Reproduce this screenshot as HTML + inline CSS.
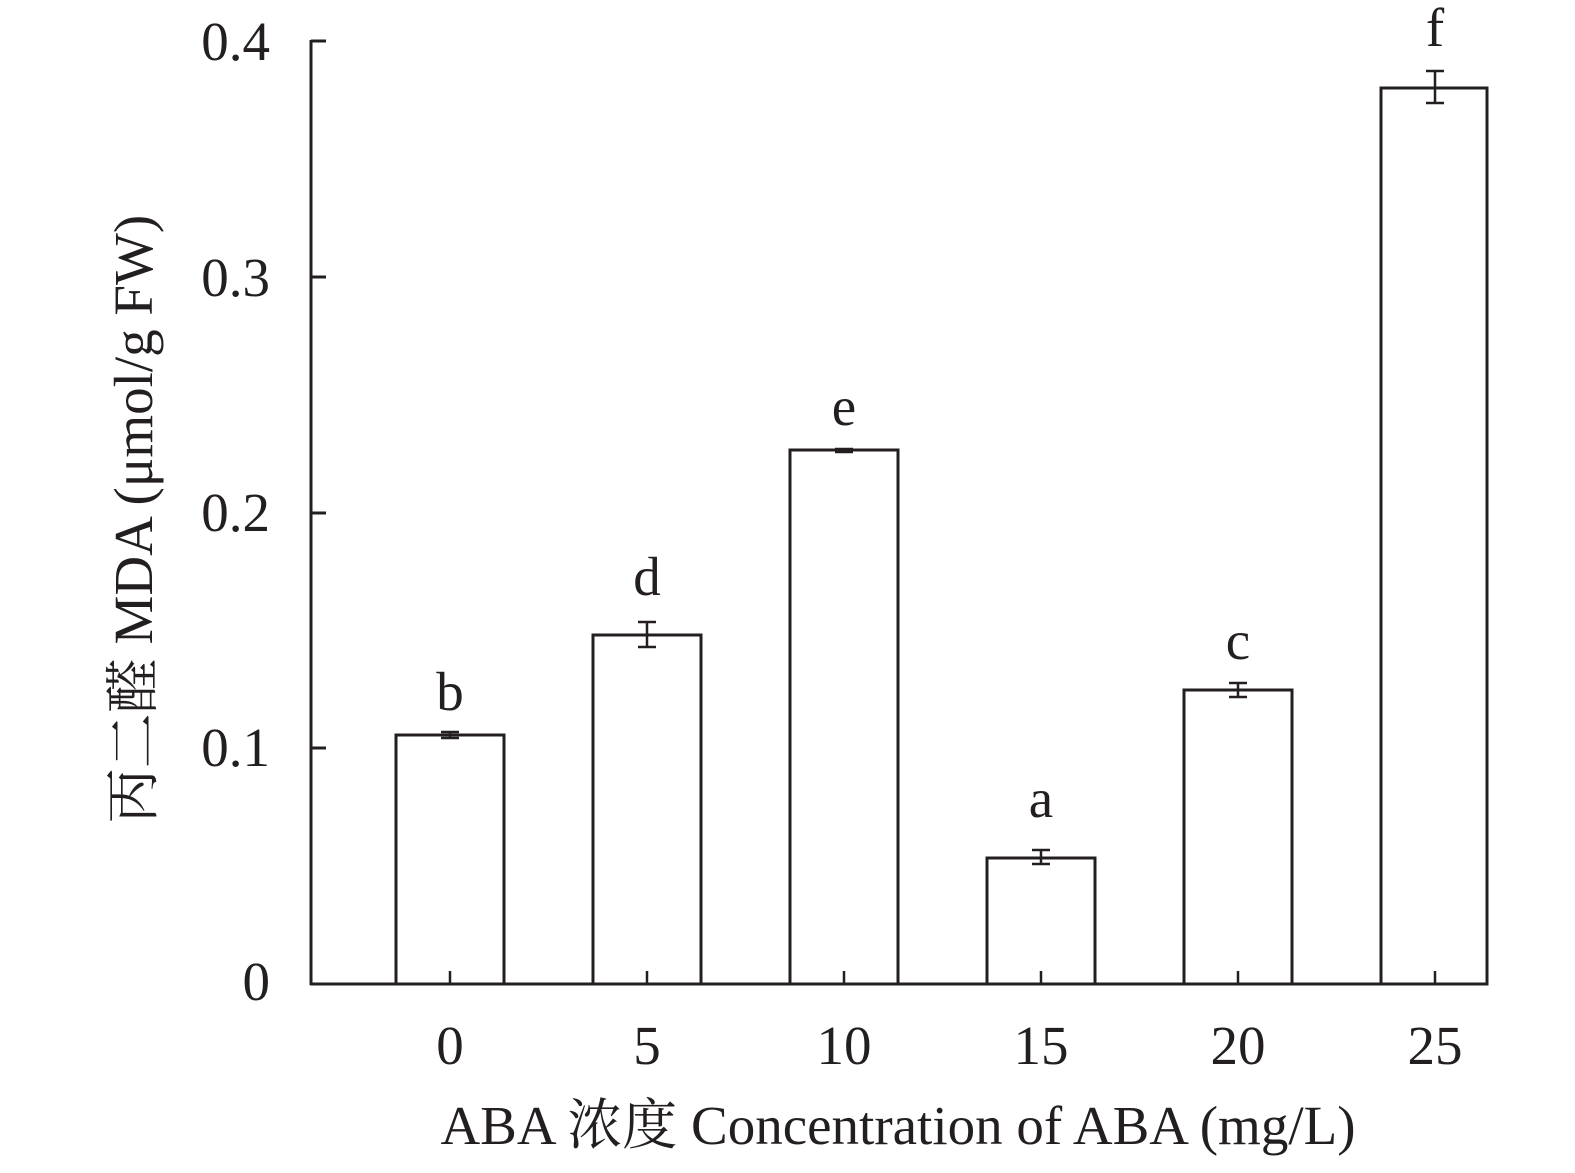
<!DOCTYPE html>
<html><head><meta charset="utf-8"><style>body{margin:0;background:#fff}</style></head><body>
<svg width="1575" height="1168" xmlns="http://www.w3.org/2000/svg" font-family="'Liberation Serif','Noto Serif CJK SC',serif" fill="#231f20">
<g stroke="#231f20" stroke-width="3" fill="none">
<line x1="311" y1="40" x2="311" y2="985"/>
<line x1="310" y1="984" x2="1488" y2="984"/>
<line x1="311" y1="41" x2="326" y2="41"/>
<line x1="311" y1="277" x2="326" y2="277"/>
<line x1="311" y1="513" x2="326" y2="513"/>
<line x1="311" y1="748" x2="326" y2="748"/>
<rect x="396" y="735" width="108" height="249"/>
<rect x="593" y="635" width="108" height="349"/>
<rect x="790" y="450" width="108" height="534"/>
<rect x="987" y="858" width="108" height="126"/>
<rect x="1184" y="690" width="108" height="294"/>
<rect x="1381" y="88" width="106" height="896"/>
<g stroke-width="2.5">
<line x1="450" y1="971" x2="450" y2="984"/><line x1="647" y1="971" x2="647" y2="984"/><line x1="844" y1="971" x2="844" y2="984"/><line x1="1041" y1="971" x2="1041" y2="984"/><line x1="1238" y1="971" x2="1238" y2="984"/><line x1="1435" y1="971" x2="1435" y2="984"/>
<path d="M450 732V738M441 732H459M441 738H459"/>
<path d="M647 622V647M638 622H656M638 647H656"/>
<path d="M844 449V452M835 449H853M835 452H853"/>
<path d="M1041 850V864M1032 850H1050M1032 864H1050"/>
<path d="M1238 683V697M1229 683H1247M1229 697H1247"/>
<path d="M1435 71V103M1426 71H1444M1426 103H1444"/>
</g></g>
<g font-size="55" text-anchor="end">
<text x="270" y="60">0.4</text><text x="270" y="296">0.3</text><text x="270" y="531">0.2</text><text x="270" y="766">0.1</text><text x="270" y="1000">0</text>
</g>
<g font-size="55" text-anchor="middle">
<text x="450" y="1064">0</text><text x="647" y="1064">5</text><text x="844" y="1064">10</text><text x="1041" y="1064">15</text><text x="1238" y="1064">20</text><text x="1435" y="1064">25</text>
<text x="450" y="710">b</text><text x="647" y="595">d</text><text x="844" y="425">e</text><text x="1041" y="817">a</text><text x="1238" y="659">c</text><text x="1435" y="46">f</text>
<text x="898" y="1144">ABA 浓度 Concentration of ABA (mg/L)</text>
<text transform="translate(152,519) rotate(-90)">丙二醛 MDA (μmol/g FW)</text>
</g>
</svg>
</body></html>
